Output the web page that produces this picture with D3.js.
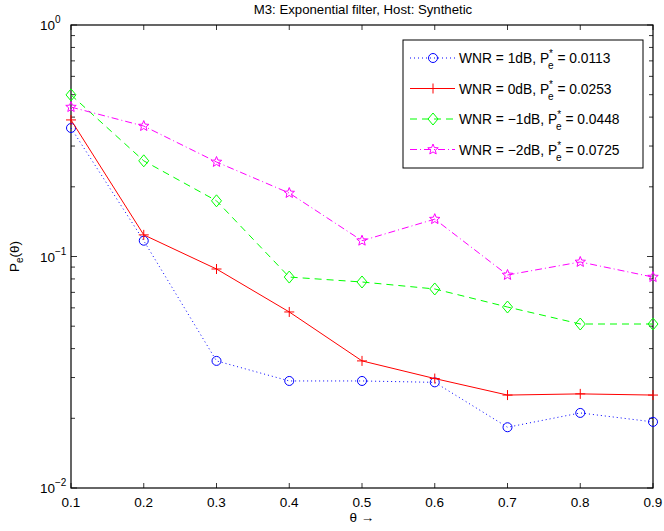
<!DOCTYPE html>
<html>
<head>
<meta charset="utf-8">
<script src="https://cdn.jsdelivr.net/npm/d3@7"></script>
<style>
  body { margin: 0; background: #fff; }
  svg { display: block; font-family: "Liberation Sans", Arial, sans-serif; }
</style>
</head>
<body>
<svg id="chart"></svg>
<script>
const width = 664, height = 531
const margin = {top: 25, right: 11, bottom: 43, left: 71}

const thetas = [0.1, 0.2, 0.3, 0.4, 0.5, 0.6, 0.7, 0.8, 0.9]
const wnr1 = [0.359, 0.117, 0.0354, 0.0290, 0.0290, 0.0286, 0.0183, 0.0211, 0.0193]
const wnr0 = [0.389, 0.124, 0.0883, 0.0576, 0.0354, 0.0297, 0.0252, 0.0255, 0.0252]
const wnrM1 = [0.499, 0.259, 0.174, 0.0815, 0.0776, 0.0724, 0.0605, 0.0511, 0.0511]
const wnrM2 = [0.442, 0.366, 0.256, 0.188, 0.117, 0.145, 0.0832, 0.0947, 0.0815]
const legendWnr = ["1", "0", "\u22121", "\u22122"]
const legendPe = ["0.0113", "0.0253", "0.0448", "0.0725"]
const yTicks = [1e-2, 1e-1, 1e0]

const series = [
    {values: wnr1, color: "#0000ff", dash: "1,3", marker: "circle"},
    {values: wnr0, color: "#ff0000", dash: null, marker: "plus"},
    {values: wnrM1, color: "#00ff00", dash: "7,5", marker: "diamond"},
    {values: wnrM2, color: "#ff00ff", dash: "7,3,1,3", marker: "star"},
]

const svg = d3.select("svg#chart")
    .attr("viewBox", [0, 0, width, height])
    .attr("width", width)
    .attr("height", height)

const xScale = d3.scaleLinear()
    .domain([0.1, 0.9])
    .range([margin.left, width - margin.right])

const yScale = d3.scaleLog()
    .domain([1e-2, 1])
    .range([height - margin.bottom, margin.top])

const x0 = margin.left, x1 = width - margin.right
const y0 = height - margin.bottom, y1 = margin.top

// minor log ticks
const minor = []
for (const d of [1e-2, 1e-1]) for (let k = 2; k <= 9; k++) minor.push(d * k)

const ticks = svg.append("g").attr("stroke", "#000").attr("stroke-width", 0.8)
for (const t of thetas) {
    ticks.append("line").attr("x1", xScale(t)).attr("x2", xScale(t)).attr("y1", y0).attr("y2", y0 - 5)
    ticks.append("line").attr("x1", xScale(t)).attr("x2", xScale(t)).attr("y1", y1).attr("y2", y1 + 5)
}
for (const t of minor.concat(yTicks)) {
    const len = yTicks.includes(t) ? 6 : 4
    ticks.append("line").attr("x1", x0).attr("x2", x0 + len).attr("y1", yScale(t)).attr("y2", yScale(t))
    ticks.append("line").attr("x1", x1).attr("x2", x1 - len).attr("y1", yScale(t)).attr("y2", yScale(t))
}

// frame
svg.append("rect")
    .attr("x", x0).attr("y", y1)
    .attr("width", x1 - x0).attr("height", y0 - y1)
    .attr("fill", "none").attr("stroke", "#000").attr("stroke-width", 1.2)

// x tick labels
svg.append("g").selectAll("text")
    .data(thetas)
    .enter()
    .append("text")
    .attr("x", d => xScale(d))
    .attr("y", y0 + 19)
    .attr("text-anchor", "middle")
    .attr("font-size", 13.5)
    .text(d => d.toFixed(1))

// y tick labels 10^n
const yl = svg.append("g").selectAll("text")
    .data(yTicks)
    .enter()
    .append("text")
    .attr("x", 40)
    .attr("y", d => yScale(d) + 5)
    .attr("font-size", 13.5)
yl.append("tspan").text("10")
yl.append("tspan").attr("dy", -7).attr("font-size", 10).text(d => Math.round(Math.log10(d)) === 0 ? "0" : "\u2212" + Math.abs(Math.round(Math.log10(d))))

// title and axis labels
svg.append("text")
    .attr("x", (x0 + x1) / 2 + 1).attr("y", 14)
    .attr("text-anchor", "middle").attr("font-size", 13.2)
    .text("M3: Exponential filter, Host: Synthetic")

svg.append("text")
    .attr("x", (x0 + x1) / 2).attr("y", 522)
    .attr("text-anchor", "middle").attr("font-size", 13.5)
    .text("\u03b8 \u2192")

const ylab = svg.append("text")
    .attr("transform", `translate(19, ${(y0 + y1) / 2}) rotate(-90)`)
    .attr("text-anchor", "middle").attr("font-size", 13.5)
ylab.append("tspan").text("P")
ylab.append("tspan").attr("dy", 4).attr("font-size", 10).text("e")
ylab.append("tspan").attr("dy", -4).text("(\u03b8)")

function drawMarker(g, type, color, x, y) {
    if (type === "circle") {
        g.append("circle").attr("cx", x).attr("cy", y).attr("r", 4.5)
            .attr("fill", "none").attr("stroke", color)
    } else if (type === "plus") {
        g.append("path").attr("d", `M${x - 5},${y}H${x + 5}M${x},${y - 5}V${y + 5}`)
            .attr("stroke", color)
    } else if (type === "diamond") {
        g.append("path").attr("d", `M${x},${y - 6}L${x + 5},${y}L${x},${y + 6}L${x - 5},${y}Z`)
            .attr("fill", "none").attr("stroke", color)
    } else {
        const pts = d3.range(10).map(i => {
            const r = i % 2 === 0 ? 5.5 : 2.4
            const a = -Math.PI / 2 + i * Math.PI / 5
            return [x + r * Math.cos(a), y + r * Math.sin(a)]
        })
        g.append("path").attr("d", "M" + pts.join("L") + "Z")
            .attr("fill", "none").attr("stroke", color)
    }
}

const line = d3.line()
    .x((d, i) => xScale(thetas[i]))
    .y(d => yScale(d))

const plot = svg.append("g")
for (const s of series) {
    plot.append("path")
        .attr("d", line(s.values))
        .attr("fill", "none")
        .attr("stroke", s.color)
        .attr("stroke-width", 1)
        .attr("stroke-dasharray", s.dash)
    const mg = plot.append("g")
    s.values.forEach((v, i) => drawMarker(mg, s.marker, s.color, xScale(thetas[i]), yScale(v)))
}

// legend
const lg = svg.append("g")
lg.append("rect")
    .attr("x", 403).attr("y", 40).attr("width", 240).attr("height", 128)
    .attr("fill", "#fff").attr("stroke", "#000").attr("stroke-width", 1)
series.forEach((s, i) => {
    const y = 58 + i * 30.5
    lg.append("line").attr("x1", 410).attr("x2", 455).attr("y1", y).attr("y2", y)
        .attr("stroke", s.color).attr("stroke-dasharray", s.dash)
    drawMarker(lg, s.marker, s.color, 433, y)
    const t = lg.append("text").attr("x", 459).attr("y", y + 5).attr("font-size", 13.8)
    t.append("tspan").text(`WNR = ${legendWnr[i]}dB, P`)
    t.append("tspan").attr("dy", -6).attr("font-size", 10).text("*")
    t.append("tspan").attr("dx", -5).attr("dy", 12).attr("font-size", 10).text("e")
    t.append("tspan").attr("dy", -6).text(` = ${legendPe[i]}`)
})
</script>
</body>
</html>
